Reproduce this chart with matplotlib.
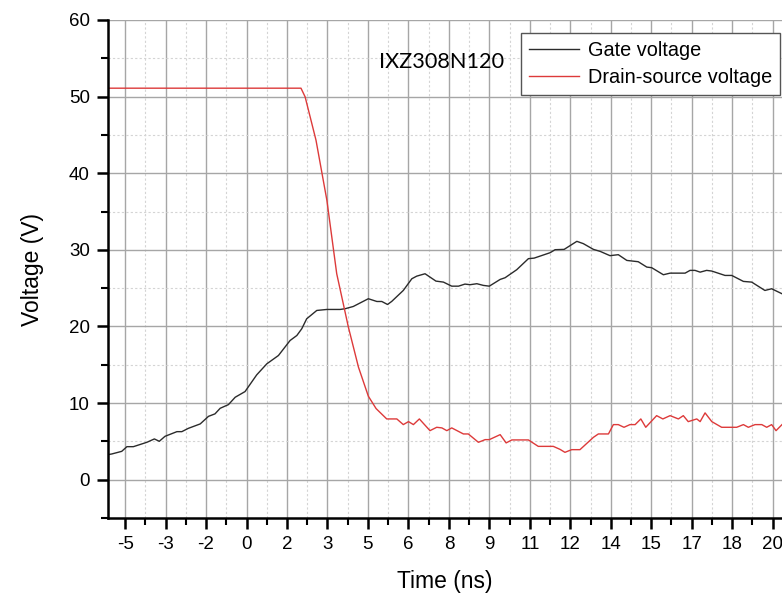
import matplotlib
matplotlib.use("Agg")
import matplotlib.pyplot as plt
import numpy as np
from matplotlib.ticker import FixedLocator

# Gate voltage trace (time in ns, voltage in V)
gate_t = [-5.66, -5.51, -5.13, -4.93, -4.68, -4.16, -3.87, -3.68, -3.46, -3.00, -2.81,
          -2.56, -2.10, -1.78, -1.53, -1.33, -1.01, -0.75, -0.37, 0.08, 0.47, 0.92,
          1.37, 1.63, 1.82, 2.01, 2.40, 2.79, 3.30, 3.49, 3.81, 4.39, 4.72, 4.91,
          5.13, 5.29, 5.74, 6.07, 6.26, 6.58, 7.00, 7.29, 7.61, 7.87, 8.12, 8.32,
          8.58, 8.83, 9.06, 9.48, 9.67, 10.12, 10.57, 10.79, 11.41, 11.60, 11.95,
          12.44, 12.69, 13.08, 13.34, 13.72, 14.04, 14.37, 14.81, 15.14, 15.33,
          15.78, 16.04, 16.62, 16.81, 17.00, 17.20, 17.45, 17.65, 18.16, 18.42,
          18.87, 19.19, 19.70, 19.96, 20.36]
gate_v = [3.27, 3.36, 3.70, 4.31, 4.31, 4.88, 5.32, 5.01, 5.66, 6.27, 6.27,
          6.70, 7.28, 8.27, 8.59, 9.32, 9.80, 10.76, 11.50, 13.68, 15.12, 16.21,
          18.17, 18.82, 19.70, 21.00, 22.09, 22.22, 22.22, 22.31, 22.61, 23.62, 23.26, 23.26,
          22.87, 23.26, 24.70, 26.23, 26.57, 26.88, 25.92, 25.79, 25.26, 25.26, 25.53, 25.45,
          25.58, 25.36, 25.26, 26.14, 26.36, 27.41, 28.85, 28.92, 29.63, 30.02, 30.06,
          31.11, 30.81, 30.06, 29.80, 29.24, 29.37, 28.62, 28.45, 27.75, 27.67,
          26.75, 26.96, 26.96, 27.32, 27.32, 27.09, 27.32, 27.23, 26.66, 26.66,
          25.88, 25.79, 24.70, 24.92, 24.27]

# Drain-source voltage trace
vds_t = [-5.66, 1.79, 1.95, 2.37, 2.79, 3.17, 3.62, 4.01, 4.39, 4.69, 5.10, 5.49,
         5.74, 5.94, 6.13, 6.36, 6.77, 7.03, 7.23, 7.42, 7.61, 8.06, 8.25, 8.64,
         8.90, 9.06, 9.48, 9.71, 9.93, 10.57, 10.95, 11.53, 11.79, 11.98, 12.24,
         12.56, 13.08, 13.27, 13.66, 13.85, 14.04, 14.26, 14.49, 14.69, 14.91,
         15.10, 15.52, 15.76, 16.04, 16.36, 16.55, 16.74, 17.07, 17.20, 17.39,
         17.65, 18.03, 18.61, 18.87, 19.06, 19.32, 19.58, 19.77, 19.96, 20.13, 20.36]
vds_v = [51.1, 51.1, 49.97, 44.31, 36.47, 26.88, 19.91, 14.68, 10.9, 9.28, 7.93, 7.93,
         7.19, 7.58, 7.19, 7.93, 6.40, 6.84, 6.76, 6.40, 6.76, 5.97, 5.97, 4.88,
         5.23, 5.23, 5.88, 4.80, 5.19, 5.19, 4.35, 4.35, 3.96, 3.57, 3.92,
         3.92, 5.53, 5.97, 5.97, 7.19, 7.19, 6.84, 7.19, 7.19, 7.93,
         6.84, 8.36, 7.93, 8.36, 7.93, 8.36, 7.58, 7.93, 7.58, 8.72,
         7.58, 6.84, 6.84, 7.19, 6.84, 7.19, 7.19, 6.84, 7.19, 6.40, 7.19]

x_tick_labels = ["-5", "-3", "-2", "0", "2", "3", "5", "6", "8", "9",
                 "11", "12", "14", "15", "17", "18", "20"]

plt.rcParams["font.family"] = ["Liberation Sans", "DejaVu Sans"]

fig = plt.figure(figsize=(7.82, 5.99), dpi=100)
ax = fig.add_axes([108 / 782, 81 / 599, 1 - 108 / 782, 498 / 599])

ax.plot(gate_t, gate_v, color="#2b2b2b", lw=1.0, label="Gate voltage")
ax.plot(vds_t, vds_v, color="#dd3a3a", lw=1.0, label="Drain-source voltage")

ax.set_xlim(-5.66, 20.36)
ax.set_ylim(-5, 60)

major_x = np.linspace(-5, 20, len(x_tick_labels))
step = major_x[1] - major_x[0]
ax.xaxis.set_major_locator(FixedLocator(major_x))
ax.xaxis.set_minor_locator(FixedLocator(major_x[:-1] + step / 2))
ax.set_xticklabels(x_tick_labels)

ax.yaxis.set_major_locator(FixedLocator([0, 10, 20, 30, 40, 50, 60]))
ax.yaxis.set_minor_locator(FixedLocator([-5, 5, 15, 25, 35, 45, 55]))

ax.grid(which="major", color="#a6a6a6", lw=1.0, ls="-")
ax.grid(which="minor", color="#d4d4d4", lw=0.8, ls=(0, (2, 2)))
ax.set_axisbelow(True)

for side in ("top", "right"):
    ax.spines[side].set_visible(False)
for side in ("left", "bottom"):
    ax.spines[side].set_linewidth(1.8)

ax.tick_params(which="major", direction="out", length=8, width=1.8, labelsize=13.5, pad=5)
ax.tick_params(which="minor", direction="out", length=5, width=1.5)

ax.set_xlabel("Time (ns)", fontsize=16.5, labelpad=12)
ax.set_ylabel("Voltage (V)", fontsize=16.5, labelpad=18)

ax.text(7.2, 54.5, "IXZ308N120", fontsize=15.6, family=["Lato", "DejaVu Sans"],
        ha="center", va="center")

leg = ax.legend(loc="upper right", bbox_to_anchor=(780 / 782, 1 - 33 / 599),
                bbox_transform=fig.transFigure, fontsize=14.3, handlelength=2.5,
                handletextpad=0.45, borderpad=0.4, labelspacing=0.42,
                fancybox=False, framealpha=1.0, edgecolor="#555555",
                borderaxespad=0)
leg.get_frame().set_linewidth(1.0)

fig.savefig("out.png", dpi=100)
